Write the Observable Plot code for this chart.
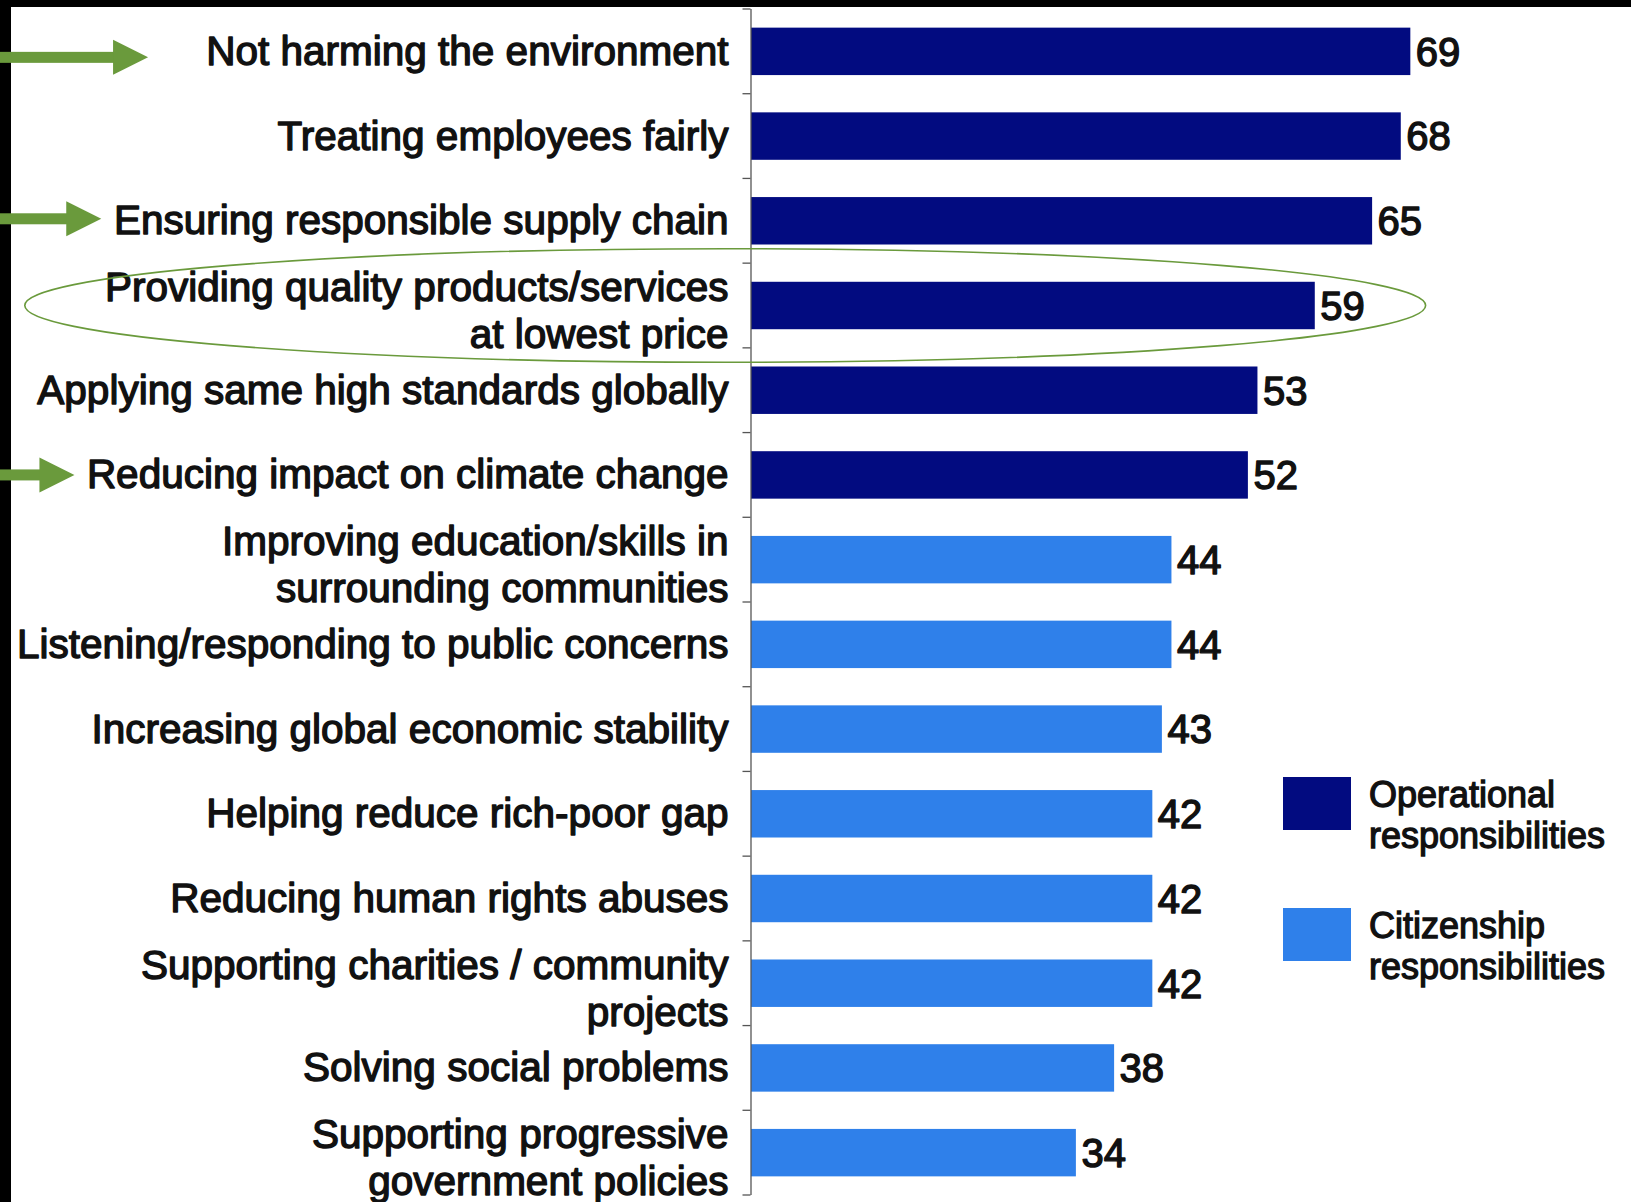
<!DOCTYPE html>
<html><head><meta charset="utf-8">
<script src="https://cdn.jsdelivr.net/npm/d3@7"></script>
<script src="https://cdn.jsdelivr.net/npm/@observablehq/plot@0.6"></script>
<style>
html,body{margin:0;padding:0;overflow:hidden;background:#000;}
#frame{position:relative;width:1631px;height:1202px;background:#000;overflow:hidden;}
#paper{position:absolute;left:11px;top:7px;right:0;bottom:0;background:#fff;}
#chart{position:absolute;left:0;top:0;}
</style></head><body>
<div id="frame"><div id="paper"></div><div id="chart"></div></div>
<script>
// ---- data ----
const categories = [
  "Not harming the environment",
  "Treating employees fairly",
  "Ensuring responsible supply chain",
  "Providing quality products/services\nat lowest price",
  "Applying same high standards globally",
  "Reducing impact on climate change",
  "Improving education/skills in\nsurrounding communities",
  "Listening/responding to public concerns",
  "Increasing global economic stability",
  "Helping reduce rich-poor gap",
  "Reducing human rights abuses",
  "Supporting charities / community\nprojects",
  "Solving social problems",
  "Supporting progressive\ngovernment policies"
];
const values = [69, 68, 65, 59, 53, 52, 44, 44, 43, 42, 42, 42, 38, 34];
const groups = [
  "Operational responsibilities", "Operational responsibilities", "Operational responsibilities",
  "Operational responsibilities", "Operational responsibilities", "Operational responsibilities",
  "Citizenship responsibilities", "Citizenship responsibilities", "Citizenship responsibilities",
  "Citizenship responsibilities", "Citizenship responsibilities", "Citizenship responsibilities",
  "Citizenship responsibilities", "Citizenship responsibilities"
];
const groupNames = ["Operational responsibilities", "Citizenship responsibilities"];
const legendLines = [["Operational", "responsibilities"], ["Citizenship", "responsibilities"]];
const groupColors = ["#020b80", "#2f80ea"];

// annotations
const arrowRows = [categories[0], categories[2], categories[5]];
const arrowTips = [-63.1, -68.0, -70.8];   // in x-data units
const arrowShift = [6, -2, 0];
const highlightRow = categories[3];
const highlightSpan = [-76, 70.6];         // in x-data units
const green = "#6a9a3c";

const rows = categories.map((c, i) => ({category: c, value: values[i], group: groups[i]}));
const FONT = "'Liberation Sans', Arial, sans-serif";
const SW = 1.4;

const plot = Plot.plot({
  width: 1631, height: 1202,
  marginLeft: 751, marginRight: 20, marginTop: 9, marginBottom: 7,
  x: {domain: [0, 90], axis: null},
  y: {domain: categories, axis: null, paddingInner: 0.44, paddingOuter: 0.22, round: false},
  color: {domain: groupNames, range: groupColors},
  style: {background: "transparent", overflow: "visible"},
  marks: [
    Plot.barX(rows, {x: "value", y: "category", fill: "group"}),
    Plot.ruleX([0], {stroke: "#555", strokeWidth: 1.3, dx: -0.5}),
    Plot.text(rows, {x: "value", y: "category", text: d => String(d.value), textAnchor: "start",
      dx: 5, dy: 1, fontSize: 40, fontFamily: FONT, fill: "#111", stroke: "#111", strokeWidth: SW, paintOrder: "normal"}),
    Plot.text(rows.filter(d => !d.category.includes("\n")), {x: 0, y: "category", text: "category",
      textAnchor: "end", dx: -23, fontSize: 40.5, fontFamily: FONT, fill: "#111", stroke: "#111", strokeWidth: SW, paintOrder: "normal"}),
    Plot.text(rows.filter(d => d.category.includes("\n")), {x: 0, y: "category", text: "category",
      textAnchor: "end", dx: -23, dy: 3.5, lineHeight: 1.16, fontSize: 40.5, fontFamily: FONT, fill: "#111", stroke: "#111", strokeWidth: SW, paintOrder: "normal"})
  ]
});
document.getElementById("chart").appendChild(plot);

// ---- annotations via the plot's own scales ----
const sx = plot.scale("x"), sy = plot.scale("y");
const step = sy.step, bw = sy.bandwidth, pin = sy.paddingInner ?? 0.44;
const center = c => sy.apply(c) + bw / 2;
const svg = d3.select(plot);
const x0 = sx.apply(0) - 0.5;

// tick marks at category boundaries
const bounds = categories.map(c => sy.apply(c) - pin * step / 2);
bounds.push(sy.apply(categories[categories.length - 1]) + bw + pin * step / 2);
svg.append("g").selectAll("line").data(bounds).join("line")
  .attr("x1", x0 - 8).attr("x2", x0).attr("y1", d => d).attr("y2", d => d)
  .attr("stroke", "#555").attr("stroke-width", 1.3);

// highlight ellipse
const ex1 = sx.apply(highlightSpan[0]), ex2 = sx.apply(highlightSpan[1]);
svg.append("ellipse")
  .attr("cx", (ex1 + ex2) / 2).attr("cy", center(highlightRow))
  .attr("rx", (ex2 - ex1) / 2).attr("ry", step * 0.67)
  .attr("fill", "none").attr("stroke", green).attr("stroke-width", 1.6);

// arrows
const ga = svg.append("g").attr("fill", green);
arrowRows.forEach((c, i) => {
  const cy = center(c) + arrowShift[i], tip = sx.apply(arrowTips[i]), base = tip - 35;
  ga.append("rect").attr("x", 0).attr("y", cy - 5.5).attr("width", base + 1).attr("height", 11);
  ga.append("path").attr("d", `M${base},${cy - 17.5}L${tip},${cy}L${base},${cy + 17.5}Z`);
});

// legend
const lg = svg.append("g").attr("text-anchor", "start");
const legendTop = [777, 908];
groupNames.forEach((g, i) => {
  lg.append("rect").attr("x", 1283).attr("y", legendTop[i]).attr("width", 68).attr("height", 53)
    .attr("fill", groupColors[i]);
  legendLines[i].forEach((line, j) => {
    lg.append("text").attr("x", 1369).attr("y", legendTop[i] + 30 + j * 41)
      .attr("text-anchor", "start")
      .attr("font-family", FONT).attr("font-size", 36)
      .attr("fill", "#111").attr("stroke", "#111").attr("stroke-width", 1.3)
      .text(line);
  });
});
</script>
</body></html>
